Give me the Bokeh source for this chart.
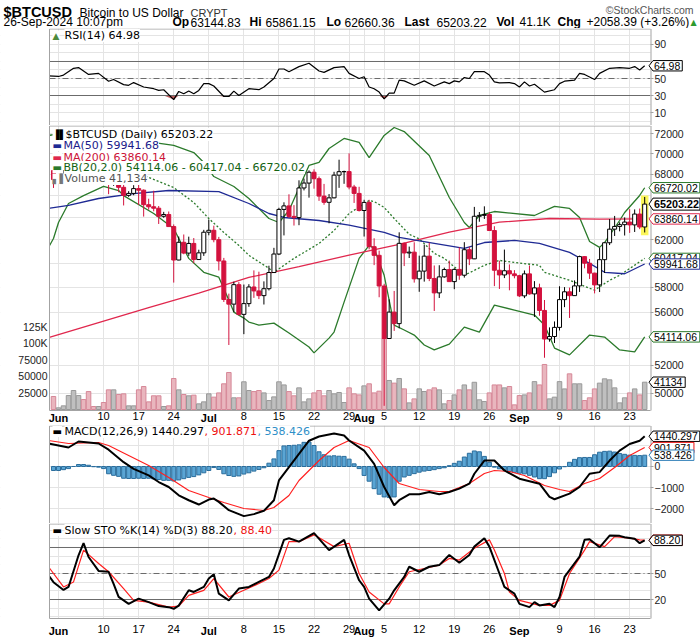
import math
import pandas as pd
from bokeh.plotting import figure
from bokeh.layouts import column
from bokeh.models import (Range1d, LinearAxis, LinearScale, FixedTicker, Label, Grid,
                          ColumnDataSource)
from bokeh.embed import file_html
from bokeh.resources import INLINE
from bokeh.core.properties import value

# ---------------- data ----------------
dates = pd.date_range("2024-05-31", "2024-09-26")  # one bar per day

opens = [68350,
  67490, 67710, 67750, 68800, 70560, 71080, 70790, 69350, 69300, 69650, 69500, 67320, 68240, 66760, 66010,
  66190, 66640, 66490, 65150, 64960, 64830, 64100, 64260, 63180, 60280, 61800, 60870, 61700, 60320, 60890,
  62680, 62850, 62030, 60200, 57030, 56660, 58230, 55850, 56700, 58040, 57720, 57340, 57900, 59230, 60790,
  64720, 65040, 64090, 63980, 66700, 67160, 68190, 67570, 65940, 65370, 65780, 67910, 68240, 68250, 66790, 66190,
  64620, 65360, 61420, 60680, 58120, 53990, 56030, 55130, 61710, 60880, 60950, 58710, 59350, 60610, 58740,
  57560, 58870, 59480, 58480, 59490, 59010, 61160, 60380, 64100, 64180, 64260, 62830, 59420, 59030, 59380, 59120,
  58970, 57320, 59120, 57480, 57970, 56160, 53950, 54140, 54840, 57020, 57650, 57340, 58130, 60570, 60010,
  59180, 58210, 60310, 61760, 62950, 63190, 63350, 63580, 63330, 64300, 63144.83]
highs = [69000,
  67850, 68400, 70250, 71050, 71750, 71600, 71950, 69550, 69850, 70150, 69560, 69980, 68450, 67300, 66400,
  66960, 67200, 66560, 65700, 66440, 65030, 64500, 64530, 63370, 62300, 62480, 62290, 62170, 61160, 62890,
  63800, 63260, 62270, 60460, 57500, 58470, 58440, 58240, 58270, 59410, 59300, 58500, 59800, 61320, 64870,
  65370, 66110, 65110, 67420, 67590, 68370, 68470, 67780, 67080, 66130, 68230, 69400, 68340, 70020, 66990, 66810,
  65600, 65600, 62150, 61080, 58300, 57040, 57720, 62670, 61780, 61430, 61800, 60650, 61600, 61780, 59820,
  59840, 59640, 60230, 59590, 61370, 61810, 61400, 64950, 64480, 65000, 64480, 63210, 60220, 61170, 59910, 59430,
  59040, 59400, 59820, 58520, 58310, 56990, 54840, 55300, 58100, 58030, 57990, 58580, 60650, 60610, 60370,
  59210, 61320, 61790, 63850, 64130, 63560, 64000, 64740, 64720, 64800, 65861.15]
lows = [66700,
  67380, 67320, 67600, 68550, 70400, 70150, 68500, 69200, 69100, 69200, 66120, 66900, 66300, 65080, 65870,
  66020, 65130, 64070, 64700, 64550, 63410, 63960, 63170, 58400, 60260, 60770, 60630, 60010, 60300, 60630,
  62410, 61800, 59400, 56830, 53500, 56030, 55760, 54320, 56450, 57160, 57060, 56630, 57760, 59220, 60700,
  62400, 63950, 63270, 63300, 66470, 65800, 66630, 65500, 65140, 63470, 65740, 66710, 67090, 66570, 65310, 64530,
  62300, 61190, 59850, 57210, 49120, 53970, 54570, 54770, 59770, 60450, 58400, 57650, 58480, 58520, 56120,
  57150, 58800, 58490, 57860, 58630, 58810, 59850, 60360, 63610, 63860, 62830, 58110, 57880, 58770, 57770, 58750,
  57230, 57140, 57420, 55650, 55740, 52550, 53750, 53650, 54600, 56420, 55570, 57330, 57640, 59580, 58700,
  57520, 57630, 59190, 61560, 62350, 62760, 62390, 62620, 62700, 62950, 62660.36]
closes = [67490,
  67710, 67750, 68800, 70560, 71080, 70790, 69350, 69300, 69650, 69500, 67320, 68240, 66760, 66010, 66190,
  66640, 66490, 65150, 64960, 64830, 64100, 64260, 63180, 60280, 61800, 60870, 61700, 60320, 60890, 62680,
  62850, 62030, 60200, 57030, 56660, 58230, 55850, 56700, 58040, 57720, 57340, 57900, 59230, 60790, 64720,
  65040, 64090, 63980, 66700, 67160, 68190, 67570, 65940, 65370, 65780, 67910, 68240, 68250, 66790, 66190, 64620,
  65360, 61420, 60680, 58120, 53990, 56030, 55130, 61710, 60880, 60950, 58710, 59350, 60610, 58740, 57560,
  58870, 59480, 58480, 59490, 59010, 61160, 60380, 64100, 64180, 64260, 62830, 59420, 59030, 59380, 59120, 58970,
  57320, 59120, 57480, 57970, 56160, 53950, 54140, 54840, 57020, 57650, 57340, 58130, 60570, 60010, 59180,
  58210, 60310, 61760, 62950, 63190, 63350, 63580, 63330, 64300, 63140, 65203.22]
volumes = [19600,
  2500, 5500, 21000, 28600, 21000, 15000, 27000, 4500, 4500, 10500, 29600, 29600, 22600, 23600, 5500,
  5500, 29600, 34600, 11500, 20600, 20600, 4500, 5500, 46700, 29600, 22600, 20600, 21600, 8500, 11500,
  23600, 18600, 25000, 38700, 55700, 17600, 17600, 41700, 28600, 27000, 28600, 25000, 13500, 19000, 41700,
  37000, 27000, 20600, 32600, 11500, 16000, 25000, 28600, 20600, 28600, 23600, 25600, 10500, 32600, 23600, 22000,
  35600, 38700, 25000, 27600, 107000, 43700, 39700, 46700, 31100, 10000, 16000, 31100, 27100, 29600, 32600,
  29600, 8500, 13500, 22000, 29600, 37000, 29600, 41000, 14600, 12000, 25000, 37000, 37000, 32600, 34600, 7000,
  21000, 22000, 25000, 42000, 37000, 67800, 16000, 18600, 42000, 31000, 53700, 38700, 38700, 13500, 17600,
  31000, 39700, 46200, 44700, 32600, 10000, 17600, 25000, 31000, 22000, 41134]

ma50_dates = ["05-30", "06-03", "06-09", "06-16", "06-23", "07-03", "07-09", "07-13", "07-16", "07-23", "07-29",
              "08-05", "08-08", "08-15", "08-21", "08-25", "08-31", "09-05", "09-11", "09-15", "09-18", "09-22", "09-26"]
ma50_vals = [64810, 65080, 65720, 66180, 66460, 66360, 65260, 64350, 63990, 63720, 63310,
             62660, 62220, 61700, 61270, 61780, 61960, 61700, 60930, 60000, 59250, 59130, 59941.68]

ma200_dates = ["05-30", "06-09", "06-19", "06-29", "07-09", "07-19", "07-29", "08-08", "08-18", "08-28", "09-07", "09-17", "09-26"]
ma200_vals = [54050, 55210, 56380, 57540, 58820, 59730, 60700, 61620, 62690, 63570, 63900, 63840, 63860.14]

bbu_dates = ["05-30", "06-06", "06-12", "06-17", "06-24", "06-28", "06-30", "07-02", "07-06", "07-09", "07-13", "07-15",
             "07-17", "07-21", "07-23", "07-25", "07-28", "07-31", "08-02", "08-05", "08-07", "08-09", "08-14", "08-18",
             "08-21", "08-22", "08-24", "08-27", "09-04", "09-08", "09-11", "09-13", "09-15", "09-17", "09-18", "09-21",
             "09-22", "09-25", "09-26"]
bbu_vals = [71800, 72400, 72000, 71300, 70800, 70100, 69130, 67780, 66840, 65720, 63900, 63540,
            64620, 68840, 69130, 70500, 71500, 71100, 69610, 71800, 72610, 72200, 69810, 65810,
            63540, 63100, 64170, 64530, 64170, 64990, 64810, 63990, 61870, 61360, 61780, 63720,
            64440, 66000, 66720.02]

bbm_dates = ["05-31", "06-06", "06-11", "06-15", "06-18", "06-24", "06-28", "07-01", "07-04", "07-07", "07-09", "07-13",
             "07-14", "07-18", "07-23", "07-26", "07-29", "08-02", "08-03", "08-05", "08-07", "08-10", "08-12", "08-15",
             "08-17", "08-21", "08-25", "08-28", "08-31", "09-05", "09-06", "09-11", "09-15", "09-16", "09-19", "09-21",
             "09-26"]
bbm_vals = [67400, 68300, 68900, 68400, 67880, 66740, 65350, 63900, 62660, 61530, 60680, 59580,
            59250, 60420, 61700, 62830, 64350, 65530, 65440, 64900, 63900, 62500, 62100, 60850,
            60420, 59000, 59830, 60250, 60080, 59830, 59250, 58590, 57940, 57780, 58590, 59000,
            60417.04]

bbl_dates = ["05-30", "05-31", "06-01", "06-03", "06-06", "06-10", "06-13", "06-14", "06-20", "06-24", "06-27", "06-30",
             "07-03", "07-05", "07-06", "07-08", "07-09", "07-11", "07-14", "07-17", "07-21", "07-22", "07-25", "07-26",
             "07-28", "07-31", "08-02", "08-03", "08-05", "08-07", "08-09", "08-11", "08-13", "08-15", "08-18", "08-21",
             "08-24", "08-27", "08-31", "09-04", "09-06", "09-08", "09-11", "09-15", "09-18", "09-21", "09-24", "09-26"]
bbl_vals = [61350, 62130, 63540, 65260, 65990, 66840, 66460, 65990, 64350, 63010, 60420, 59250,
            58840, 56980, 56030, 55560, 55250, 55020, 55170, 54410, 53350, 52910, 54020, 54480,
            56820, 60420, 61530, 61270, 59000, 55020, 54640, 54250, 53500, 53130, 53570, 54860,
            54480, 56580, 56190, 55800, 55020, 53270, 52760, 54250, 54100, 53130, 52980, 54114.06]

rsi_dates = ["05-30", "06-01", "06-02", "06-04", "06-05", "06-07", "06-09", "06-11", "06-12", "06-14", "06-15", "06-16",
             "06-18", "06-20", "06-21", "06-22", "06-24", "06-25", "06-26", "06-27", "06-28", "06-29", "06-30", "07-01",
             "07-02", "07-04", "07-05", "07-06", "07-07", "07-09", "07-11", "07-12", "07-14", "07-15", "07-16", "07-17",
             "07-19", "07-21", "07-23", "07-24", "07-26", "07-28", "07-29", "07-31", "08-01", "08-02", "08-03", "08-04",
             "08-05", "08-06", "08-07", "08-08", "08-09", "08-11", "08-13", "08-15", "08-17", "08-18", "08-19", "08-20",
             "08-21", "08-22", "08-23", "08-25", "08-26", "08-27", "08-28", "08-30", "08-31", "09-01", "09-02", "09-03",
             "09-04", "09-06", "09-08", "09-09", "09-10", "09-12", "09-13", "09-14", "09-16", "09-17", "09-19", "09-21",
             "09-23", "09-24", "09-25", "09-26"]
rsi_vals = [53.2, 52.4, 54, 62, 62.8, 54.8, 56, 46.8, 48.8, 42.8, 42, 45.2,
            40, 38, 36, 36.8, 25.2, 34.8, 32, 35.2, 32, 36, 44, 44,
            41.2, 28.8, 28.8, 35.2, 30, 38, 36.8, 40, 50, 61.2, 61.2, 58,
            64, 68, 58.8, 57.2, 62.8, 64, 56, 50, 52, 40, 38, 34,
            26, 32.8, 32.8, 48, 47.2, 42, 47.2, 41.2, 46, 44, 47.2, 46,
            51.2, 50, 58, 58, 54, 46, 44.8, 45.2, 44, 40, 46, 41.2,
            43.2, 34, 36.8, 44, 46.8, 48, 56, 54.8, 48.8, 56, 62, 62.8,
            62, 64, 60, 64.98]

macd_dates = ["05-30", "06-03", "06-05", "06-09", "06-11", "06-14", "06-16", "06-19", "06-21", "06-23", "06-25", "06-27",
              "06-29", "07-01", "07-02", "07-03", "07-05", "07-08", "07-10", "07-12", "07-14", "07-15", "07-17", "07-19",
              "07-21", "07-23", "07-26", "07-28", "07-29", "08-01", "08-03", "08-05", "08-07", "08-08", "08-10", "08-12",
              "08-14", "08-16", "08-18", "08-20", "08-22", "08-23", "08-25", "08-27", "08-29", "09-01", "09-05", "09-07",
              "09-08", "09-11", "09-13", "09-15", "09-17", "09-19", "09-21", "09-23", "09-25", "09-26"]
macd_vals = [1095, 905, 1190, 1095, 800, 205, -110, -425, -740, -976, -1370, -1606,
             -1811, -1575, -1528, -1685, -2079, -2362, -2268, -2110, -1606, -661, -31, 598,
             1228, 1430, 1570, 1476, 1238, 756, 126, -976, -1842, -1606, -1323, -1323,
             -1213, -1323, -1213, -1055, -819, -346, 283, 283, -189, -583, -819, -1449,
             -1559, -1291, -976, -346, -268, 283, 756, 1071, 1228, 1440.297]

signal_dates = ["05-30", "06-03", "06-09", "06-11", "06-15", "06-19", "06-23", "06-27", "07-01", "07-04", "07-08", "07-12",
                "07-14", "07-17", "07-19", "07-23", "07-26", "07-29", "08-02", "08-05", "08-08", "08-12", "08-16", "08-18",
                "08-22", "08-25", "08-27", "08-30", "09-02", "09-06", "09-09", "09-11", "09-14", "09-17", "09-20", "09-23",
                "09-26"]
signal_vals = [1238, 1095, 1143, 1000, 524, 48, -524, -1143, -1476, -1714, -2000, -2095,
               -1952, -1380, -667, 286, 905, 1238, 905, -48, -810, -1095, -1190, -1190,
               -810, -333, -190, -238, -429, -905, -1095, -1190, -810, -571, -48, 524,
               901.871]

hist_vals = [-190,
  -190, -150, -100, 0, 95, 95, 60, -10, -30, -100, -346, -420, -470, -560, -570,
  -570, -560, -570, -560, -590, -620, -660, -660, -690, -640, -580, -520, -480, -400, -300,
  -190, -50, -140, -346, -430, -470, -450, -360, -300, -220, -140, -60, 157, 362, 756,
  980, 1000, 1010, 1030, 1150, 1160, 1000, 700, 560, 500, 510, 490, 480, 350, 126, -100,
  -425, -700, -1055, -1320, -1450, -1480, -1450, -700, -500, -420, -340, -270, -220, -190, -150,
  -100, -60, 40, 150, 250, 450, 630, 740, 700, 480, 200, -30, -110, -160, -240, -280,
  -320, -350, -420, -500, -580, -580, -480, -300, -120, -10, 200, 340, 420, 430, 430,
  560, 680, 720, 730, 690, 620, 580, 540, 530, 520, 538.426]

stok_dates = ["05-30", "05-31", "06-02", "06-03", "06-05", "06-06", "06-07", "06-09", "06-11", "06-12", "06-13", "06-15",
              "06-17", "06-19", "06-21", "06-23", "06-24", "06-25", "06-27", "06-28", "06-30", "07-01", "07-02", "07-03",
              "07-05", "07-07", "07-09", "07-11", "07-13", "07-14", "07-16", "07-17", "07-19", "07-22", "07-25", "07-28",
              "07-29", "07-31", "08-01", "08-02", "08-04", "08-06", "08-07", "08-09", "08-10", "08-12", "08-14", "08-16",
              "08-18", "08-20", "08-22", "08-23", "08-25", "08-26", "08-28", "08-29", "08-31", "09-01", "09-03", "09-04",
              "09-05", "09-07", "09-08", "09-09", "09-10", "09-13", "09-14", "09-15", "09-17", "09-19", "09-21", "09-22",
              "09-24", "09-25", "09-26"]
stok_vals = [48, 40, 31, 34.5, 71, 85, 69, 53, 52, 38, 23, 15,
             21, 17, 12.4, 11.2, 9.3, 13, 30.6, 28.7, 34.5, 44.2, 49.2, 26.7,
             19, 32.6, 34.5, 40.3, 46, 55.8, 88.8, 90.7, 86.8, 96.5, 77, 88.8,
             71.3, 42.2, 34.5, 21, 7.4, 21, 30.6, 46, 57.8, 52, 57.8, 59.7,
             71.3, 62.4, 71.3, 81, 90.7, 81, 50, 34.5, 26.7, 15, 11.2, 17,
             13.2, 15, 11.2, 22.9, 46, 69.4, 88.8, 89.5, 80.2, 93.8, 93.4, 91.9,
             90, 84.9, 88.2]

stod_dates = ["05-30", "06-02", "06-04", "06-06", "06-09", "06-11", "06-14", "06-16", "06-19", "06-23", "06-25", "06-27",
              "06-30", "07-02", "07-05", "07-08", "07-11", "07-13", "07-15", "07-17", "07-19", "07-22", "07-26", "07-29",
              "07-31", "08-02", "08-05", "08-06", "08-08", "08-10", "08-13", "08-16", "08-18", "08-20", "08-23", "08-26",
              "08-27", "08-29", "08-30", "09-01", "09-05", "09-07", "09-09", "09-11", "09-14", "09-15", "09-18", "09-20",
              "09-23", "09-25", "09-26"]
stod_vals = [57.8, 34.5, 40.3, 77, 61.6, 52, 32.6, 19, 17, 11.2, 12.4, 24.8,
             30.6, 44.2, 22.9, 30.6, 38.4, 44.2, 53.9, 86.8, 86.8, 94.6, 81, 84.9,
             50, 28.7, 15, 15, 34.5, 52, 55.8, 59.7, 67.4, 65.5, 79.1, 88.8,
             77, 50, 28.7, 19, 13.2, 13.2, 19, 50, 77, 86.8, 81, 92.6,
             90.7, 88.8, 88.4]

tick_dates = ["06-01", "06-10", "06-17", "06-24", "07-01", "07-08", "07-15", "07-22", "07-29",
              "08-01", "08-05", "08-12", "08-19", "08-26", "09-01", "09-09", "09-16", "09-23"]
tick_labels = ["Jun", "10", "17", "24", "Jul", "8", "15", "22", "29",
               "Aug", "5", "12", "19", "26", "Sep", "9", "16", "23"]
months = ["Jun", "Jul", "Aug", "Sep"]

# ---------------- geometry helpers ----------------
BASE = pd.Timestamp("2024-06-01")
def dn(s):
    return (pd.Timestamp("2024-" + s) - BASE).days
def dl(lst):
    return [dn(s) for s in lst]

xs = [(d - BASE).days for d in dates]
tick_x = dl(tick_dates)
day_ticks = [t for t, l in zip(tick_x, tick_labels) if l not in months]
day_over = {t: l for t, l in zip(tick_x, tick_labels) if l not in months}
mon_ticks = [t for t, l in zip(tick_x, tick_labels) if l in months]
mon_over = {t: l for t, l in zip(tick_x, tick_labels) if l in months}

XL, XRt = -1.796, 118.16          # plotted date span (inner panel)
PX = 601 / (XRt - XL)             # pixels per day
FX = Range1d(XL - 49 / PX, XRt + 50 / PX)

RED = "#d3123e"
GRID = "#e4e4e4"
OUT = "#a3a3a3"
AXF = "Liberation Sans"
LGF = "DejaVu Sans"
GREEN = "#2b7a2b"

def v2px(v, y0, y1, h, log=False):
    if log:
        return (math.log(y1) - math.log(v)) / (math.log(y1) - math.log(y0)) * h
    return (y1 - v) / (y1 - y0) * h

def px2v(py, y0, y1, h, log=False):
    if log:
        return math.exp(math.log(y1) - py / h * (math.log(y1) - math.log(y0)))
    return y1 - py / h * (y1 - y0)

def base_fig(h, y0, y1, log=False):
    p = figure(frame_width=700, frame_height=h, x_range=FX, y_range=Range1d(y0, y1),
               y_axis_type="log" if log else "linear", output_backend="svg", toolbar_location=None,
               min_border=0, x_axis_location=None, y_axis_location=None)
    p.outline_line_color = None
    p.xgrid.visible = False
    p.ygrid.visible = False
    p.background_fill_color = "white"
    return p

def grids(p, yticks):
    p.add_layout(Grid(dimension=0, ticker=FixedTicker(ticks=tick_x), grid_line_color=GRID))
    p.add_layout(Grid(dimension=1, ticker=FixedTicker(ticks=yticks), grid_line_color=GRID))

def masks(p, y0, y1, h, log, inner_bottom_px=None):
    p.quad(left=[FX.start, XRt], right=[XL, FX.end], bottom=[y0, y0], top=[y1, y1],
           fill_color="white", line_color=None)
    if inner_bottom_px is not None:
        p.quad(left=[FX.start], right=[FX.end], bottom=[y0],
               top=[px2v(inner_bottom_px + 0.5, y0, y1, h, log)], fill_color="white", line_color=None)

def border(p, y0, y1, h, log, top_px=0.5, bottom_px=None):
    yt = px2v(top_px, y0, y1, h, log)
    yb = px2v(bottom_px if bottom_px is not None else h, y0, y1, h, log)
    p.segment(x0=[XL, XRt + 0.5 / PX, XL], y0=[yb, yb, yt], x1=[XL, XRt + 0.5 / PX, XRt],
              y1=[yt, yt, yt], line_color=OUT, line_width=1)
    if bottom_px is not None:
        p.segment(x0=[XL], y0=[yb], x1=[XRt], y1=[yb], line_color=OUT, line_width=1)

def right_axis(p, ticks, over=None):
    ax = LinearAxis(ticker=FixedTicker(ticks=ticks), fixed_location=XRt)
    ax.axis_line_color = None
    ax.major_tick_out = 3
    ax.major_tick_in = 0
    ax.major_tick_line_color = OUT
    ax.minor_tick_line_color = None
    ax.major_label_text_font = AXF
    ax.major_label_text_font_size = "10.5px"
    ax.major_label_text_color = "#222222"
    ax.major_label_standoff = 1
    if over:
        ax.major_label_overrides = over
    p.add_layout(ax, "right")

def date_axes(p, yloc, standoff):
    for ticks, over, style in [(day_ticks, day_over, "normal"), (mon_ticks, mon_over, "bold")]:
        ax = LinearAxis(ticker=FixedTicker(ticks=ticks), fixed_location=yloc, major_label_overrides=over)
        ax.axis_line_color = None
        ax.major_tick_line_color = None
        ax.minor_tick_line_color = None
        ax.major_tick_out = 0
        ax.major_tick_in = 0
        ax.major_label_standoff = standoff
        ax.major_label_text_font = AXF
        ax.major_label_text_font_size = "11px"
        ax.major_label_text_font_style = style
        ax.major_label_text_color = "black"
        p.add_layout(ax, "below")

def txt(p, x, y, text, color="black", size="11px", font=LGF, style="normal", bg="white"):
    p.add_layout(Label(x=x, y=y, x_units="screen", y_units="screen", text=text, text_color=color,
                       text_font=font, text_font_size=size, text_font_style=style,
                       text_align="left", text_baseline="middle", background_fill_color=bg))

def text_w(t, size):
    return sum(0.278 * size if ch in ".," else 0.556 * size for ch in t)

def tag(p, v, text, color, y0, y1, h, log=False, rng=None, bold=False, size=10.5, tcolor="black"):
    pyc = v2px(v, y0, y1, h, log)
    hh = 6.0 if bold else 5.2
    right = min(699.5, 653 + text_w(text, size) + 2.5)
    xpx = [648.5, 652.5, right, right, 652.5]
    ypx = [pyc, pyc - hh, pyc - hh, pyc + hh, pyc + hh]
    kw = {"y_range_name": rng} if rng else {}
    p.patch([XRt + (x - 650) / PX for x in xpx], [px2v(y, y0, y1, h, log) for y in ypx],
            fill_color="white", line_color=color, line_width=1, **kw)
    p.text(x=[XRt + 3.5 / PX], y=[v], text=[text], text_font=value(AXF), text_font_size=f"{size}px",
           text_font_style="bold" if bold else "normal", text_color=tcolor, text_align="left",
           text_baseline="middle", **kw)

def hlines(p, hi, lo, mid):
    for v in (hi, lo):
        p.segment(x0=[XL], y0=[v], x1=[XRt], y1=[v], line_color="#6b6b6b", line_width=1)
    p.segment(x0=[XL], y0=[mid], x1=[XRt], y1=[mid], line_color="#6b6b6b", line_width=1,
              line_dash="6 3 1 3")

# ---------------- header ----------------
hdr = figure(frame_width=700, frame_height=28, x_range=Range1d(0, 700), y_range=Range1d(28, 0),
             output_backend="svg", toolbar_location=None, min_border=0,
             x_axis_location=None, y_axis_location=None)
hdr.xgrid.visible = False
hdr.ygrid.visible = False
hdr.outline_line_color = None
def htext(x, y, t, size, style="normal", color="black", font=AXF, align="left"):
    hdr.text(x=[x], y=[y], text=[t], text_font=value(font), text_font_size=size,
             text_font_style=style, text_color=color, text_align=align, text_baseline="middle")
htext(3, 11.5, "$BTCUSD", "14.5px", "bold")
htext(79, 12, "Bitcoin to US Dollar", "12px")
htext(190, 12, "CRYPT", "11px", color="#333333")
htext(693, 9.5, "\u00a9StockCharts.com", "10.5px", color="#555555", align="right")
htext(3, 21.5, "26-Sep-2024 10:07pm", "12px")
for t, xx, b in [("Op", 172, True), ("63144.83", 190, False), ("Hi", 249, True), ("65861.15", 265, False),
                 ("Lo", 326, True), ("62660.36", 344, False), ("Last", 404, True), ("65203.22", 436, False),
                 ("Vol", 496, True), ("41.1K", 519, False), ("Chg", 557, True),
                 ("+2058.39 (+3.26%)", 586, False)]:
    htext(xx, 21.5, t, "12px", "bold" if b else "normal")
htext(690, 22, "\u25b2", "8px", color="#2e9a2e", font=LGF)

# ---------------- RSI panel ----------------
R0, R1, RH = -5.29, 108.82, 97
rsi = base_fig(RH, R0, R1)
grids(rsi, list(range(0, 101, 10)))
rsi.varea(x=dl(rsi_dates), y1=[30] * len(rsi_vals), y2=[min(v, 30) for v in rsi_vals],
          fill_color="#b84a4a", fill_alpha=0.9)
hlines(rsi, 70, 30, 50)
rsi.line(dl(rsi_dates), rsi_vals, line_color="black", line_width=1.2)
masks(rsi, R0, R1, RH, False)
border(rsi, R0, R1, RH, False)
right_axis(rsi, [10, 30, 50, 90])
tag(rsi, 64.98, "64.98", "black", R0, R1, RH)
txt(rsi, 52, 90, "\u25b2", color="#4d8a3c", size="9px")
txt(rsi, 64, 90, "RSI(14) 64.98")

# ---------------- price panel ----------------
M0, M1, MH = 47781, 72814, 300
V0, V1 = -24096, 427711
main = base_fig(MH, M0, M1, log=True)
main.extra_y_ranges = {"vol": Range1d(V0, V1)}
main.extra_y_scales = {"vol": LinearScale()}
grids(main, list(range(50000, 72001, 2000)))

prev = [opens[0]] + closes[:-1]
up_day = [c >= pc for c, pc in zip(closes, prev)]
ccol = ["black" if u else RED for u in up_day]
cfill = [cc if c < o else "white" for cc, c, o in zip(ccol, closes, opens)]
vfill = ["#bfbfbf" if u else "#e9b6be" for u in up_day]
vline = ["#999999" if u else "#d68898" for u in up_day]
src = ColumnDataSource(dict(x=xs, o=opens, h=highs, l=lows, c=closes, v=volumes,
                            top=[max(a, b) for a, b in zip(opens, closes)],
                            bot=[min(a, b) for a, b in zip(opens, closes)],
                            ccol=ccol, cfill=cfill, vfill=vfill, vline=vline))
main.vbar(x="x", width=0.9, top="v", bottom=0, y_range_name="vol", source=src,
          fill_color="vfill", line_color="vline", line_width=1)
main.line(dl(bbu_dates), bbu_vals, line_color=GREEN, line_width=1.3)
main.line(dl(bbl_dates), bbl_vals, line_color=GREEN, line_width=1.3)
main.line(dl(bbm_dates), bbm_vals, line_color=GREEN, line_width=1.3, line_dash="2 2")
main.line(dl(ma200_dates), ma200_vals, line_color="#e0284e", line_width=1.3)
main.line(dl(ma50_dates), ma50_vals, line_color="#1f2a94", line_width=1.3)
last = len(xs) - 1
main.quad(left=[xs[last] - 0.75], right=[xs[last] + 0.75], top=[highs[last] * 1.002],
          bottom=[lows[last] * 0.996], fill_color="#fbf65a", line_color=None)
main.segment(x0="x", y0="l", x1="x", y1="h", line_color="ccol", line_width=1, source=src)
main.vbar(x="x", width=0.8, top="top", bottom="bot", fill_color="cfill", line_color="ccol",
          line_width=1, source=src)
masks(main, M0, M1, MH, True, inner_bottom_px=285)
border(main, M0, M1, MH, True, bottom_px=285)
right_axis(main, [50000, 52000, 56000, 58000, 62000, 68000, 70000, 72000],
           {t: str(t) for t in [50000, 52000, 56000, 58000, 62000, 68000, 70000, 72000]})
vax = LinearAxis(y_range_name="vol", fixed_location=XL,
                 ticker=FixedTicker(ticks=[25000, 50000, 75000, 100000, 125000]),
                 major_label_overrides={25000: "25000", 50000: "50000", 75000: "75000",
                                        100000: "100K", 125000: "125K"})
vax.axis_line_color = None
vax.major_tick_line_color = None
vax.minor_tick_line_color = None
vax.major_tick_out = 0
vax.major_tick_in = 0
vax.major_label_text_font = AXF
vax.major_label_text_font_size = "10.5px"
vax.major_label_text_color = "#222222"
vax.major_label_standoff = 2
main.add_layout(vax, "left")
date_axes(main, px2v(285, M0, M1, MH, True), 1)

tag(main, 66720.02, "66720.02", GREEN, M0, M1, MH, True)
tag(main, 63860.14, "63860.14", "#e0284e", M0, M1, MH, True)
tag(main, 60417.04, "60417.04", GREEN, M0, M1, MH, True)
tag(main, 59941.68, "59941.68", "#1f2a94", M0, M1, MH, True)
tag(main, 54114.06, "54114.06", GREEN, M0, M1, MH, True)
tag(main, 41134, "41134", "black", V0, V1, MH, False, rng="vol")
tag(main, 65203.22, "65203.22", "black", M0, M1, MH, True, bold=True, size=10.8)

txt(main, 52, 291, "\u2590\u258c", size="9px")
txt(main, 65, 291, "$BTCUSD (Daily) 65203.22")
txt(main, 52, 280, "\u25ac", color="#1f2a94", size="10px")
txt(main, 63, 280, "MA(50) 59941.68", color="#1a1a8a")
txt(main, 52, 268, "\u25ac", color="#e0284e", size="10px")
txt(main, 63, 268, "MA(200) 63860.14", color="#cc1438")
txt(main, 52, 258, "\u25ac", color=GREEN, size="10px")
txt(main, 63, 258, "BB(20,2.0) 54114.06 - 60417.04 - 66720.02", color="#136313")
txt(main, 52, 247, "\u2596\u258c\u258c", color="#777777", size="9px")
txt(main, 64, 247, "Volume 41,134", color="#555555")

# ---------------- MACD panel ----------------
C0, C1, CH = -2714, 1952, 98
macd = base_fig(CH, C0, C1)
grids(macd, [-2000, -1000, 0, 1000])
macd.vbar(x=xs, width=0.8, top=hist_vals, bottom=0, fill_color="#5aa5d4", line_color="#2a6d9c", line_width=1)
macd.line(dl(signal_dates), signal_vals, line_color="#ff2020", line_width=1.2)
macd.line(dl(macd_dates), macd_vals, line_color="black", line_width=2)
masks(macd, C0, C1, CH, False)
border(macd, C0, C1, CH, False)
right_axis(macd, [-2000, -1000, 0])
tag(macd, 1440.297, "1440.297", "black", C0, C1, CH)
tag(macd, 901.871, "901.871", "#ee1111", C0, C1, CH)
tag(macd, 538.426, "538.426", "#2f7fb8", C0, C1, CH)
txt(macd, 52, 92, "\u25ac", size="10px")
txt(macd, 64, 92, "MACD(12,26,9) 1440.297")
txt(macd, 204, 92, ", 901.871", color="#ee1111")
txt(macd, 257, 92, ", 538.426", color="#2f8fc8")

# ---------------- Stochastic panel ----------------
S0, S1, SH = -26.12, 107.67, 116
sto = base_fig(SH, S0, S1)
grids(sto, list(range(0, 101, 10)))
hlines(sto, 80, 20, 50)
sto.line(dl(stod_dates), stod_vals, line_color="#ff2020", line_width=1.2)
sto.line(dl(stok_dates), stok_vals, line_color="black", line_width=2)
masks(sto, S0, S1, SH, False, inner_bottom_px=95)
border(sto, S0, S1, SH, False, bottom_px=95)
right_axis(sto, [20, 50])
date_axes(sto, px2v(95, S0, S1, SH), 6)
tag(sto, 88.40, "88.40", "#ee1111", S0, S1, SH)
tag(sto, 88.20, "88.20", "black", S0, S1, SH)
txt(sto, 52, 109, "\u25ac", size="10px")
txt(sto, 64, 109, "Slow STO %K(14) %D(3) 88.20")
txt(sto, 233, 109, ", 88.40", color="#ee1111")

layout = column(hdr, rsi, main, macd, sto, spacing=0)
open("out.html", "w").write(file_html(layout, INLINE))
